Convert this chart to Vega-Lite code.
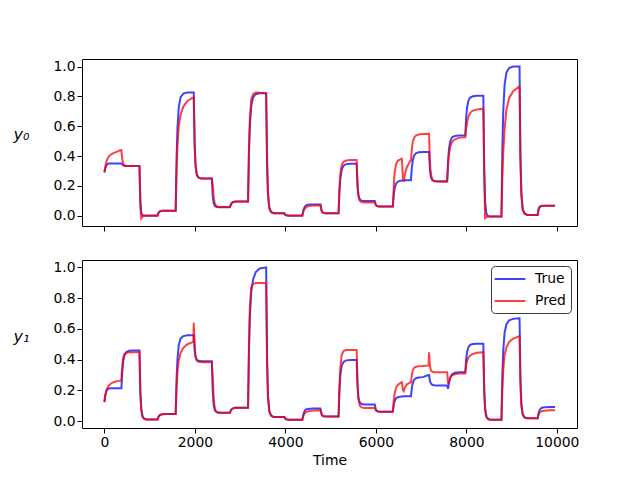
{
  "$schema": "https://vega.github.io/schema/vega-lite/v6.json",
  "background": "white",
  "padding": {"left": 12, "top": 58, "right": 5, "bottom": 5},
  "config": {
    "view": {"stroke": "black", "strokeWidth": 1},
    "font": "DejaVu Sans",
    "axis": {
      "grid": false, "domain": false,
      "tickColor": "black", "tickSize": 5, "tickWidth": 1,
      "labelColor": "black", "labelFontSize": 13.9, "labelFont": "DejaVu Sans", "labelPadding": 2,
      "titleColor": "black", "titleFontSize": 13.9, "titleFont": "DejaVu Sans", "titleFontWeight": "normal"
    },
    "legend": {
      "title": null, "orient": "top-right", "offset": 6,
      "fillColor": "white", "strokeColor": "#3c3c3c", "cornerRadius": 4, "padding": 5,
      "symbolType": "M-2.2,0H2.2", "symbolSize": 196, "symbolStrokeWidth": 2, "symbolOpacity": 0.75, "symbolOffset": 6,
      "labelFontSize": 13.9, "labelFont": "DejaVu Sans", "labelColor": "black", "labelOffset": 17, "rowPadding": 7
    }
  },
  "datasets": {
    "y0": [
      {"t": 0, "True": 0.29, "Pred": 0.29}, {"t": 20, "True": 0.32, "Pred": 0.33}, {"t": 50, "True": 0.34, "Pred": 0.37}, {"t": 90, "True": 0.35, "Pred": 0.395},
      {"t": 140, "True": 0.351, "Pred": 0.41}, {"t": 200, "True": 0.351, "Pred": 0.42}, {"t": 280, "True": 0.351, "Pred": 0.43}, {"t": 365, "True": 0.351, "Pred": 0.44},
      {"t": 375, "True": 0.351, "Pred": 0.44}, {"t": 395, "True": 0.343, "Pred": 0.38}, {"t": 415, "True": 0.338, "Pred": 0.35}, {"t": 445, "True": 0.335, "Pred": 0.338},
      {"t": 485, "True": 0.334, "Pred": 0.334}, {"t": 545, "True": 0.333, "Pred": 0.333}, {"t": 635, "True": 0.333, "Pred": 0.333}, {"t": 765, "True": 0.333, "Pred": 0.333},
      {"t": 775, "True": 0.333, "Pred": 0.333}, {"t": 795, "True": 0.1, "Pred": 0.05}, {"t": 815, "True": 0.02, "Pred": -0.018}, {"t": 845, "True": 0.003, "Pred": -0.005},
      {"t": 885, "True": 0.001, "Pred": 0}, {"t": 945, "True": 0, "Pred": 0.001}, {"t": 1035, "True": 0, "Pred": 0.001}, {"t": 1165, "True": 0, "Pred": 0.001},
      {"t": 1175, "True": 0, "Pred": 0.001}, {"t": 1195, "True": 0.018, "Pred": 0.018}, {"t": 1215, "True": 0.027, "Pred": 0.027}, {"t": 1245, "True": 0.031, "Pred": 0.031},
      {"t": 1285, "True": 0.033, "Pred": 0.033}, {"t": 1345, "True": 0.033, "Pred": 0.033}, {"t": 1435, "True": 0.033, "Pred": 0.033}, {"t": 1565, "True": 0.033, "Pred": 0.033},
      {"t": 1575, "True": 0.033, "Pred": 0.033}, {"t": 1595, "True": 0.39, "Pred": 0.299}, {"t": 1615, "True": 0.589, "Pred": 0.474}, {"t": 1645, "True": 0.732, "Pred": 0.603},
      {"t": 1685, "True": 0.795, "Pred": 0.679}, {"t": 1745, "True": 0.819, "Pred": 0.732}, {"t": 1835, "True": 0.827, "Pred": 0.77}, {"t": 1965, "True": 0.827, "Pred": 0.793},
      {"t": 1975, "True": 0.827, "Pred": 0.793}, {"t": 1995, "True": 0.48, "Pred": 0.467}, {"t": 2015, "True": 0.336, "Pred": 0.331}, {"t": 2045, "True": 0.272, "Pred": 0.271},
      {"t": 2085, "True": 0.255, "Pred": 0.254}, {"t": 2145, "True": 0.249, "Pred": 0.249}, {"t": 2235, "True": 0.249, "Pred": 0.249}, {"t": 2365, "True": 0.249, "Pred": 0.249},
      {"t": 2375, "True": 0.249, "Pred": 0.249}, {"t": 2395, "True": 0.133, "Pred": 0.2}, {"t": 2415, "True": 0.085, "Pred": 0.12}, {"t": 2445, "True": 0.064, "Pred": 0.075},
      {"t": 2485, "True": 0.058, "Pred": 0.062}, {"t": 2545, "True": 0.056, "Pred": 0.059}, {"t": 2635, "True": 0.056, "Pred": 0.058}, {"t": 2765, "True": 0.056, "Pred": 0.058},
      {"t": 2775, "True": 0.056, "Pred": 0.058}, {"t": 2795, "True": 0.074, "Pred": 0.075}, {"t": 2815, "True": 0.084, "Pred": 0.085}, {"t": 2845, "True": 0.091, "Pred": 0.092},
      {"t": 2885, "True": 0.094, "Pred": 0.095}, {"t": 2945, "True": 0.096, "Pred": 0.096}, {"t": 3035, "True": 0.096, "Pred": 0.096}, {"t": 3165, "True": 0.096, "Pred": 0.096},
      {"t": 3175, "True": 0.096, "Pred": 0.096}, {"t": 3195, "True": 0.423, "Pred": 0.45}, {"t": 3215, "True": 0.604, "Pred": 0.65}, {"t": 3245, "True": 0.735, "Pred": 0.78},
      {"t": 3285, "True": 0.793, "Pred": 0.815}, {"t": 3345, "True": 0.815, "Pred": 0.826}, {"t": 3435, "True": 0.822, "Pred": 0.824}, {"t": 3565, "True": 0.822, "Pred": 0.822},
      {"t": 3575, "True": 0.822, "Pred": 0.822}, {"t": 3595, "True": 0.338, "Pred": 0.4}, {"t": 3615, "True": 0.137, "Pred": 0.16}, {"t": 3645, "True": 0.048, "Pred": 0.055},
      {"t": 3685, "True": 0.024, "Pred": 0.025}, {"t": 3745, "True": 0.016, "Pred": 0.017}, {"t": 3835, "True": 0.016, "Pred": 0.016}, {"t": 3965, "True": 0.016, "Pred": 0.016},
      {"t": 3975, "True": 0.016, "Pred": 0.016}, {"t": 3995, "True": 0.007, "Pred": 0.008}, {"t": 4015, "True": 0.003, "Pred": 0.004}, {"t": 4045, "True": 0.001, "Pred": 0.002},
      {"t": 4085, "True": 0, "Pred": 0.001}, {"t": 4145, "True": 0, "Pred": 0.001}, {"t": 4235, "True": 0, "Pred": 0.001}, {"t": 4365, "True": 0, "Pred": 0.001},
      {"t": 4375, "True": 0, "Pred": 0.001}, {"t": 4395, "True": 0.034, "Pred": 0.025}, {"t": 4415, "True": 0.053, "Pred": 0.041}, {"t": 4445, "True": 0.067, "Pred": 0.053},
      {"t": 4485, "True": 0.073, "Pred": 0.061}, {"t": 4545, "True": 0.075, "Pred": 0.066}, {"t": 4635, "True": 0.076, "Pred": 0.069}, {"t": 4765, "True": 0.076, "Pred": 0.07},
      {"t": 4775, "True": 0.076, "Pred": 0.07}, {"t": 4795, "True": 0.04, "Pred": 0.038}, {"t": 4815, "True": 0.025, "Pred": 0.024}, {"t": 4845, "True": 0.019, "Pred": 0.018},
      {"t": 4885, "True": 0.017, "Pred": 0.017}, {"t": 4945, "True": 0.016, "Pred": 0.016}, {"t": 5035, "True": 0.016, "Pred": 0.016}, {"t": 5165, "True": 0.016, "Pred": 0.016},
      {"t": 5175, "True": 0.016, "Pred": 0.016}, {"t": 5195, "True": 0.166, "Pred": 0.18}, {"t": 5215, "True": 0.249, "Pred": 0.28}, {"t": 5245, "True": 0.309, "Pred": 0.34},
      {"t": 5285, "True": 0.336, "Pred": 0.362}, {"t": 5345, "True": 0.346, "Pred": 0.37}, {"t": 5435, "True": 0.349, "Pred": 0.373}, {"t": 5565, "True": 0.349, "Pred": 0.373},
      {"t": 5575, "True": 0.349, "Pred": 0.373}, {"t": 5595, "True": 0.198, "Pred": 0.203}, {"t": 5615, "True": 0.136, "Pred": 0.132}, {"t": 5645, "True": 0.108, "Pred": 0.1},
      {"t": 5685, "True": 0.101, "Pred": 0.092}, {"t": 5745, "True": 0.098, "Pred": 0.089}, {"t": 5835, "True": 0.098, "Pred": 0.089}, {"t": 5965, "True": 0.098, "Pred": 0.089},
      {"t": 5975, "True": 0.098, "Pred": 0.089}, {"t": 5995, "True": 0.076, "Pred": 0.073}, {"t": 6015, "True": 0.067, "Pred": 0.066}, {"t": 6045, "True": 0.063, "Pred": 0.063},
      {"t": 6085, "True": 0.062, "Pred": 0.062}, {"t": 6145, "True": 0.062, "Pred": 0.062}, {"t": 6235, "True": 0.062, "Pred": 0.062}, {"t": 6365, "True": 0.062, "Pred": 0.062},
      {"t": 6375, "True": 0.062, "Pred": 0.062}, {"t": 6395, "True": 0.14, "Pred": 0.2}, {"t": 6415, "True": 0.184, "Pred": 0.29}, {"t": 6445, "True": 0.215, "Pred": 0.345},
      {"t": 6485, "True": 0.229, "Pred": 0.368}, {"t": 6565, "True": 0.236, "Pred": 0.382},
      {"t": 6575, "True": 0.236, "Pred": 0.382}, {"t": 6595, "True": 0.237, "Pred": 0.26}, {"t": 6615, "True": 0.238, "Pred": 0.227}, {"t": 6645, "True": 0.238, "Pred": 0.285},
      {"t": 6685, "True": 0.238, "Pred": 0.325}, {"t": 6765, "True": 0.238, "Pred": 0.37},
      {"t": 6775, "True": 0.238, "Pred": 0.37}, {"t": 6795, "True": 0.323, "Pred": 0.45}, {"t": 6815, "True": 0.37, "Pred": 0.495}, {"t": 6845, "True": 0.404, "Pred": 0.523},
      {"t": 6885, "True": 0.419, "Pred": 0.538}, {"t": 6945, "True": 0.425, "Pred": 0.545}, {"t": 7035, "True": 0.427, "Pred": 0.548}, {"t": 7165, "True": 0.427, "Pred": 0.549},
      {"t": 7175, "True": 0.427, "Pred": 0.549}, {"t": 7195, "True": 0.309, "Pred": 0.36}, {"t": 7215, "True": 0.26, "Pred": 0.28}, {"t": 7245, "True": 0.239, "Pred": 0.245},
      {"t": 7285, "True": 0.233, "Pred": 0.233}, {"t": 7345, "True": 0.231, "Pred": 0.229}, {"t": 7435, "True": 0.231, "Pred": 0.228}, {"t": 7565, "True": 0.231, "Pred": 0.228},
      {"t": 7575, "True": 0.231, "Pred": 0.228}, {"t": 7595, "True": 0.369, "Pred": 0.33}, {"t": 7615, "True": 0.446, "Pred": 0.41}, {"t": 7645, "True": 0.501, "Pred": 0.465},
      {"t": 7685, "True": 0.526, "Pred": 0.495}, {"t": 7745, "True": 0.535, "Pred": 0.512}, {"t": 7835, "True": 0.538, "Pred": 0.522}, {"t": 7965, "True": 0.538, "Pred": 0.527},
      {"t": 7975, "True": 0.538, "Pred": 0.527}, {"t": 7995, "True": 0.658, "Pred": 0.58}, {"t": 8015, "True": 0.724, "Pred": 0.625}, {"t": 8045, "True": 0.772, "Pred": 0.665},
      {"t": 8085, "True": 0.793, "Pred": 0.69}, {"t": 8145, "True": 0.801, "Pred": 0.705}, {"t": 8235, "True": 0.804, "Pred": 0.713}, {"t": 8365, "True": 0.804, "Pred": 0.718},
      {"t": 8375, "True": 0.804, "Pred": 0.718}, {"t": 8395, "True": 0.32, "Pred": 0.25}, {"t": 8415, "True": 0.09, "Pred": -0.017}, {"t": 8445, "True": 0.01, "Pred": -0.01},
      {"t": 8485, "True": -0.003, "Pred": -0.006}, {"t": 8545, "True": -0.005, "Pred": -0.005}, {"t": 8635, "True": -0.005, "Pred": -0.005}, {"t": 8765, "True": -0.005, "Pred": -0.005},
      {"t": 8775, "True": -0.005, "Pred": -0.005}, {"t": 8795, "True": 0.447, "Pred": 0.25}, {"t": 8815, "True": 0.699, "Pred": 0.42}, {"t": 8845, "True": 0.879, "Pred": 0.58},
      {"t": 8885, "True": 0.96, "Pred": 0.71}, {"t": 8945, "True": 0.99, "Pred": 0.79}, {"t": 9035, "True": 1.0, "Pred": 0.835}, {"t": 9165, "True": 1.0, "Pred": 0.867},
      {"t": 9175, "True": 1.0, "Pred": 0.867}, {"t": 9195, "True": 0.4, "Pred": 0.36}, {"t": 9215, "True": 0.154, "Pred": 0.14}, {"t": 9245, "True": 0.045, "Pred": 0.04},
      {"t": 9285, "True": 0.015, "Pred": 0.015}, {"t": 9345, "True": 0.005, "Pred": 0.005}, {"t": 9435, "True": 0.005, "Pred": 0.005}, {"t": 9565, "True": 0.005, "Pred": 0.005},
      {"t": 9575, "True": 0.005, "Pred": 0.005}, {"t": 9595, "True": 0.042, "Pred": 0.04}, {"t": 9615, "True": 0.058, "Pred": 0.056}, {"t": 9645, "True": 0.065, "Pred": 0.064},
      {"t": 9685, "True": 0.067, "Pred": 0.066}, {"t": 9745, "True": 0.067, "Pred": 0.067}, {"t": 9835, "True": 0.067, "Pred": 0.067}, {"t": 9960, "True": 0.067, "Pred": 0.067}
    ],
    "y1": [
      {"t": 0, "True": 0.123, "Pred": 0.123}, {"t": 20, "True": 0.17, "Pred": 0.17}, {"t": 50, "True": 0.2, "Pred": 0.205}, {"t": 90, "True": 0.212, "Pred": 0.228},
      {"t": 140, "True": 0.214, "Pred": 0.243}, {"t": 200, "True": 0.214, "Pred": 0.253}, {"t": 280, "True": 0.214, "Pred": 0.26}, {"t": 365, "True": 0.214, "Pred": 0.264},
      {"t": 375, "True": 0.214, "Pred": 0.264}, {"t": 395, "True": 0.324, "Pred": 0.36}, {"t": 415, "True": 0.386, "Pred": 0.41}, {"t": 445, "True": 0.43, "Pred": 0.435},
      {"t": 485, "True": 0.449, "Pred": 0.444}, {"t": 545, "True": 0.457, "Pred": 0.447}, {"t": 635, "True": 0.459, "Pred": 0.448}, {"t": 765, "True": 0.459, "Pred": 0.448},
      {"t": 775, "True": 0.459, "Pred": 0.448}, {"t": 795, "True": 0.19, "Pred": 0.18}, {"t": 815, "True": 0.078, "Pred": 0.07}, {"t": 845, "True": 0.029, "Pred": 0.025},
      {"t": 885, "True": 0.015, "Pred": 0.013}, {"t": 945, "True": 0.011, "Pred": 0.011}, {"t": 1035, "True": 0.011, "Pred": 0.011}, {"t": 1165, "True": 0.011, "Pred": 0.011},
      {"t": 1175, "True": 0.011, "Pred": 0.011}, {"t": 1195, "True": 0.027, "Pred": 0.027}, {"t": 1215, "True": 0.036, "Pred": 0.036}, {"t": 1245, "True": 0.042, "Pred": 0.042},
      {"t": 1285, "True": 0.045, "Pred": 0.045}, {"t": 1345, "True": 0.046, "Pred": 0.046}, {"t": 1435, "True": 0.046, "Pred": 0.046}, {"t": 1565, "True": 0.046, "Pred": 0.046},
      {"t": 1575, "True": 0.046, "Pred": 0.046}, {"t": 1595, "True": 0.276, "Pred": 0.21}, {"t": 1615, "True": 0.404, "Pred": 0.318}, {"t": 1645, "True": 0.497, "Pred": 0.398},
      {"t": 1685, "True": 0.538, "Pred": 0.445}, {"t": 1745, "True": 0.553, "Pred": 0.477}, {"t": 1835, "True": 0.558, "Pred": 0.5}, {"t": 1965, "True": 0.558, "Pred": 0.515},
      {"t": 1975, "True": 0.558, "Pred": 0.639}, {"t": 1995, "True": 0.457, "Pred": 0.5}, {"t": 2015, "True": 0.415, "Pred": 0.42}, {"t": 2045, "True": 0.397, "Pred": 0.392},
      {"t": 2085, "True": 0.392, "Pred": 0.385}, {"t": 2145, "True": 0.39, "Pred": 0.382}, {"t": 2235, "True": 0.39, "Pred": 0.382}, {"t": 2365, "True": 0.39, "Pred": 0.382},
      {"t": 2375, "True": 0.39, "Pred": 0.382}, {"t": 2395, "True": 0.188, "Pred": 0.28}, {"t": 2415, "True": 0.104, "Pred": 0.15}, {"t": 2445, "True": 0.067, "Pred": 0.075},
      {"t": 2485, "True": 0.057, "Pred": 0.058}, {"t": 2545, "True": 0.054, "Pred": 0.055}, {"t": 2635, "True": 0.054, "Pred": 0.054}, {"t": 2765, "True": 0.054, "Pred": 0.054},
      {"t": 2775, "True": 0.054, "Pred": 0.054}, {"t": 2795, "True": 0.069, "Pred": 0.069}, {"t": 2815, "True": 0.077, "Pred": 0.077}, {"t": 2845, "True": 0.083, "Pred": 0.083},
      {"t": 2885, "True": 0.086, "Pred": 0.086}, {"t": 2945, "True": 0.087, "Pred": 0.087}, {"t": 3035, "True": 0.087, "Pred": 0.087}, {"t": 3165, "True": 0.087, "Pred": 0.087},
      {"t": 3175, "True": 0.087, "Pred": 0.087}, {"t": 3195, "True": 0.45, "Pred": 0.5}, {"t": 3215, "True": 0.68, "Pred": 0.74}, {"t": 3245, "True": 0.84, "Pred": 0.87},
      {"t": 3285, "True": 0.92, "Pred": 0.893}, {"t": 3345, "True": 0.97, "Pred": 0.898}, {"t": 3435, "True": 0.993, "Pred": 0.898}, {"t": 3565, "True": 1.0, "Pred": 0.898},
      {"t": 3575, "True": 1.0, "Pred": 0.898}, {"t": 3595, "True": 0.416, "Pred": 0.375}, {"t": 3615, "True": 0.172, "Pred": 0.157}, {"t": 3645, "True": 0.065, "Pred": 0.061},
      {"t": 3685, "True": 0.036, "Pred": 0.035}, {"t": 3745, "True": 0.026, "Pred": 0.026}, {"t": 3835, "True": 0.026, "Pred": 0.026}, {"t": 3965, "True": 0.026, "Pred": 0.026},
      {"t": 3975, "True": 0.026, "Pred": 0.026}, {"t": 3995, "True": 0.016, "Pred": 0.016}, {"t": 4015, "True": 0.012, "Pred": 0.012}, {"t": 4045, "True": 0.01, "Pred": 0.01},
      {"t": 4085, "True": 0.009, "Pred": 0.009}, {"t": 4145, "True": 0.009, "Pred": 0.009}, {"t": 4235, "True": 0.009, "Pred": 0.009}, {"t": 4365, "True": 0.009, "Pred": 0.009},
      {"t": 4375, "True": 0.009, "Pred": 0.009}, {"t": 4395, "True": 0.042, "Pred": 0.03}, {"t": 4415, "True": 0.06, "Pred": 0.045}, {"t": 4445, "True": 0.073, "Pred": 0.056},
      {"t": 4485, "True": 0.079, "Pred": 0.062}, {"t": 4545, "True": 0.081, "Pred": 0.066}, {"t": 4635, "True": 0.082, "Pred": 0.069}, {"t": 4765, "True": 0.082, "Pred": 0.07},
      {"t": 4775, "True": 0.082, "Pred": 0.07}, {"t": 4795, "True": 0.051, "Pred": 0.046}, {"t": 4815, "True": 0.038, "Pred": 0.036}, {"t": 4845, "True": 0.032, "Pred": 0.032},
      {"t": 4885, "True": 0.031, "Pred": 0.03}, {"t": 4945, "True": 0.03, "Pred": 0.03}, {"t": 5035, "True": 0.03, "Pred": 0.03}, {"t": 5165, "True": 0.03, "Pred": 0.03},
      {"t": 5175, "True": 0.03, "Pred": 0.03}, {"t": 5195, "True": 0.2, "Pred": 0.23}, {"t": 5215, "True": 0.3, "Pred": 0.35}, {"t": 5245, "True": 0.36, "Pred": 0.43},
      {"t": 5285, "True": 0.385, "Pred": 0.455}, {"t": 5345, "True": 0.395, "Pred": 0.462}, {"t": 5435, "True": 0.398, "Pred": 0.463}, {"t": 5565, "True": 0.398, "Pred": 0.463},
      {"t": 5575, "True": 0.398, "Pred": 0.463}, {"t": 5595, "True": 0.224, "Pred": 0.236}, {"t": 5615, "True": 0.152, "Pred": 0.142}, {"t": 5645, "True": 0.12, "Pred": 0.1},
      {"t": 5685, "True": 0.111, "Pred": 0.089}, {"t": 5745, "True": 0.108, "Pred": 0.085}, {"t": 5835, "True": 0.108, "Pred": 0.085}, {"t": 5965, "True": 0.108, "Pred": 0.085},
      {"t": 5975, "True": 0.108, "Pred": 0.085}, {"t": 5995, "True": 0.08, "Pred": 0.071}, {"t": 6015, "True": 0.068, "Pred": 0.065}, {"t": 6045, "True": 0.063, "Pred": 0.062},
      {"t": 6085, "True": 0.061, "Pred": 0.061}, {"t": 6145, "True": 0.061, "Pred": 0.061}, {"t": 6235, "True": 0.061, "Pred": 0.061}, {"t": 6365, "True": 0.061, "Pred": 0.061},
      {"t": 6375, "True": 0.061, "Pred": 0.061}, {"t": 6395, "True": 0.106, "Pred": 0.13}, {"t": 6415, "True": 0.13, "Pred": 0.18}, {"t": 6445, "True": 0.148, "Pred": 0.215},
      {"t": 6485, "True": 0.156, "Pred": 0.235}, {"t": 6565, "True": 0.16, "Pred": 0.253},
      {"t": 6575, "True": 0.16, "Pred": 0.253}, {"t": 6595, "True": 0.16, "Pred": 0.205}, {"t": 6615, "True": 0.161, "Pred": 0.195}, {"t": 6645, "True": 0.161, "Pred": 0.22},
      {"t": 6685, "True": 0.161, "Pred": 0.238}, {"t": 6765, "True": 0.161, "Pred": 0.252},
      {"t": 6775, "True": 0.161, "Pred": 0.252}, {"t": 6795, "True": 0.216, "Pred": 0.3}, {"t": 6815, "True": 0.247, "Pred": 0.33}, {"t": 6845, "True": 0.269, "Pred": 0.347},
      {"t": 6885, "True": 0.279, "Pred": 0.353}, {"t": 6945, "True": 0.283, "Pred": 0.356}, {"t": 7035, "True": 0.286, "Pred": 0.358}, {"t": 7165, "True": 0.3, "Pred": 0.362},
      {"t": 7175, "True": 0.3, "Pred": 0.448}, {"t": 7195, "True": 0.262, "Pred": 0.36}, {"t": 7215, "True": 0.245, "Pred": 0.33}, {"t": 7245, "True": 0.236, "Pred": 0.321},
      {"t": 7285, "True": 0.233, "Pred": 0.318}, {"t": 7345, "True": 0.232, "Pred": 0.318}, {"t": 7435, "True": 0.232, "Pred": 0.318}, {"t": 7565, "True": 0.232, "Pred": 0.318},
      {"t": 7575, "True": 0.232, "Pred": 0.318}, {"t": 7595, "True": 0.21, "Pred": 0.243}, {"t": 7615, "True": 0.245, "Pred": 0.26}, {"t": 7645, "True": 0.285, "Pred": 0.285},
      {"t": 7685, "True": 0.305, "Pred": 0.298}, {"t": 7745, "True": 0.314, "Pred": 0.305}, {"t": 7835, "True": 0.317, "Pred": 0.309}, {"t": 7965, "True": 0.318, "Pred": 0.31},
      {"t": 7975, "True": 0.318, "Pred": 0.31}, {"t": 7995, "True": 0.401, "Pred": 0.358}, {"t": 8015, "True": 0.448, "Pred": 0.39}, {"t": 8045, "True": 0.481, "Pred": 0.413},
      {"t": 8085, "True": 0.496, "Pred": 0.427}, {"t": 8145, "True": 0.501, "Pred": 0.437}, {"t": 8235, "True": 0.503, "Pred": 0.444}, {"t": 8365, "True": 0.503, "Pred": 0.448},
      {"t": 8375, "True": 0.503, "Pred": 0.448}, {"t": 8395, "True": 0.206, "Pred": 0.18}, {"t": 8415, "True": 0.082, "Pred": 0.07}, {"t": 8445, "True": 0.028, "Pred": 0.025},
      {"t": 8485, "True": 0.013, "Pred": 0.012}, {"t": 8545, "True": 0.008, "Pred": 0.008}, {"t": 8635, "True": 0.008, "Pred": 0.008}, {"t": 8765, "True": 0.008, "Pred": 0.008},
      {"t": 8775, "True": 0.008, "Pred": 0.008}, {"t": 8795, "True": 0.3, "Pred": 0.2}, {"t": 8815, "True": 0.46, "Pred": 0.33}, {"t": 8845, "True": 0.575, "Pred": 0.43},
      {"t": 8885, "True": 0.63, "Pred": 0.48}, {"t": 8945, "True": 0.655, "Pred": 0.515}, {"t": 9035, "True": 0.665, "Pred": 0.537}, {"t": 9165, "True": 0.669, "Pred": 0.552},
      {"t": 9175, "True": 0.669, "Pred": 0.552}, {"t": 9195, "True": 0.278, "Pred": 0.23}, {"t": 9215, "True": 0.116, "Pred": 0.098}, {"t": 9245, "True": 0.044, "Pred": 0.04},
      {"t": 9285, "True": 0.025, "Pred": 0.023}, {"t": 9345, "True": 0.018, "Pred": 0.018}, {"t": 9435, "True": 0.018, "Pred": 0.018}, {"t": 9565, "True": 0.018, "Pred": 0.018},
      {"t": 9575, "True": 0.018, "Pred": 0.018}, {"t": 9595, "True": 0.051, "Pred": 0.04}, {"t": 9615, "True": 0.069, "Pred": 0.054}, {"t": 9645, "True": 0.082, "Pred": 0.062},
      {"t": 9685, "True": 0.088, "Pred": 0.066}, {"t": 9745, "True": 0.09, "Pred": 0.068}, {"t": 9835, "True": 0.091, "Pred": 0.07}, {"t": 9960, "True": 0.091, "Pred": 0.07}
    ]
  },
  "spacing": 34,
  "bounds": "flush",
  "resolve": {"legend": {"color": "independent"}},
  "vconcat": [
    {
      "width": 495,
      "height": 167,
      "data": {"name": "y0"},
      "transform": [{"fold": ["True", "Pred"], "as": ["Series", "value"]}],
      "mark": {"type": "line", "strokeWidth": 2, "opacity": 0.75},
      "encoding": {
        "x": {
          "field": "t", "type": "quantitative",
          "scale": {"domain": [-495, 10445], "nice": false, "zero": false},
          "axis": {"values": [0, 2000, 4000, 6000, 8000, 10000], "labels": false, "title": null}
        },
        "y": {
          "field": "value", "type": "quantitative",
          "scale": {"domain": [-0.069, 1.051], "nice": false, "zero": false},
          "axis": {
            "values": [0, 0.2, 0.4, 0.6, 0.8, 1.0], "format": ".1f",
            "title": "y₀", "titleAngle": 0, "titleX": -61, "titleY": 75, "titleFontSize": 16,
            "titleAlign": "center", "titleBaseline": "middle", "titleFontStyle": "italic"
          }
        },
        "color": {
          "field": "Series", "type": "nominal",
          "scale": {"domain": ["True", "Pred"], "range": ["#0000ff", "#ff0000"]},
          "legend": null
        }
      }
    },
    {
      "width": 495,
      "height": 168,
      "data": {"name": "y1"},
      "transform": [{"fold": ["True", "Pred"], "as": ["Series", "value"]}],
      "mark": {"type": "line", "strokeWidth": 2, "opacity": 0.75},
      "encoding": {
        "x": {
          "field": "t", "type": "quantitative",
          "scale": {"domain": [-495, 10445], "nice": false, "zero": false},
          "axis": {"values": [0, 2000, 4000, 6000, 8000, 10000], "format": "d", "title": "Time", "titlePadding": 5}
        },
        "y": {
          "field": "value", "type": "quantitative",
          "scale": {"domain": [-0.045, 1.048], "nice": false, "zero": false},
          "axis": {
            "values": [0, 0.2, 0.4, 0.6, 0.8, 1.0], "format": ".1f",
            "title": "y₁", "titleAngle": 0, "titleX": -61, "titleY": 76, "titleFontSize": 16,
            "titleAlign": "center", "titleBaseline": "middle", "titleFontStyle": "italic"
          }
        },
        "color": {
          "field": "Series", "type": "nominal",
          "scale": {"domain": ["True", "Pred"], "range": ["#0000ff", "#ff0000"]}
        }
      }
    }
  ]
}
